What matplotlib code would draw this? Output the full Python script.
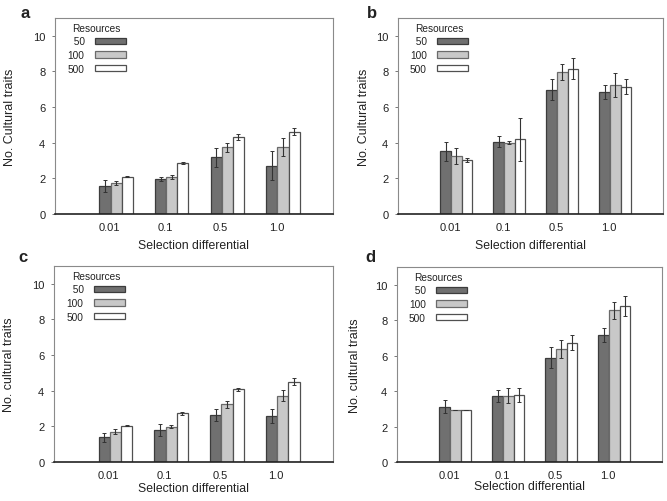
import matplotlib
matplotlib.use("Agg")
import matplotlib.pyplot as plt
from matplotlib.patches import Patch
import numpy as np

plt.rcParams['font.family'] = ['Liberation Sans', 'DejaVu Sans']
plt.rcParams['text.color'] = '#222222'
plt.rcParams['axes.labelcolor'] = '#222222'
plt.rcParams['xtick.labelcolor'] = '#222222'
plt.rcParams['ytick.labelcolor'] = '#222222'

categories = ["0.01", "0.1", "0.5", "1.0"]
resources = ["50", "100", "500"]

# Panel a
a_50 = [1.59, 1.97, 3.18, 2.72]
a_100 = [1.74, 2.08, 3.75, 3.78]
a_500 = [2.08, 2.88, 4.31, 4.63]
a_50_err = [0.33, 0.10, 0.52, 0.82]
a_100_err = [0.09, 0.09, 0.26, 0.50]
a_500_err = [0.03, 0.05, 0.17, 0.18]

# Panel b
b_50 = [3.52, 4.06, 6.97, 6.85]
b_100 = [3.26, 4.00, 7.96, 7.25]
b_500 = [3.01, 4.19, 8.16, 7.15]
b_50_err = [0.52, 0.31, 0.60, 0.39]
b_100_err = [0.43, 0.09, 0.46, 0.66]
b_500_err = [0.11, 1.19, 0.60, 0.41]

# Panel c
c_50 = [1.39, 1.82, 2.65, 2.59]
c_100 = [1.69, 1.99, 3.23, 3.71]
c_500 = [2.04, 2.74, 4.07, 4.50]
c_50_err = [0.25, 0.34, 0.35, 0.38]
c_100_err = [0.14, 0.08, 0.22, 0.31]
c_500_err = [0.02, 0.09, 0.06, 0.20]

# Panel d
d_50 = [3.13, 3.71, 5.89, 7.16]
d_100 = [2.96, 3.73, 6.35, 8.55]
d_500 = [2.96, 3.79, 6.74, 8.78]
d_50_err = [0.39, 0.34, 0.57, 0.41]
d_100_err = [0.0, 0.42, 0.51, 0.49]
d_500_err = [0.0, 0.41, 0.40, 0.57]

panels = [
    ("a", "No. Cultural traits", (a_50, a_100, a_500), (a_50_err, a_100_err, a_500_err)),
    ("b", "No. Cultural traits", (b_50, b_100, b_500), (b_50_err, b_100_err, b_500_err)),
    ("c", "No. cultural traits", (c_50, c_100, c_500), (c_50_err, c_100_err, c_500_err)),
    ("d", "No. cultural traits", (d_50, d_100, d_500), (d_50_err, d_100_err, d_500_err)),
]

W, H = 667, 502
fig = plt.figure(figsize=(W / 100, H / 100), dpi=100)

# pixel boxes: left, right, top, bottom
boxes = [(55, 333, 19, 215), (398, 663, 19, 215), (54, 333, 267, 463), (397, 662, 268, 463)]
letter_pos = [(25, 13), (372, 13), (23, 257), (370, 257)]
ylab_x = [-0.14, -0.105, -0.14, -0.135]
xlab_y = [-0.13, -0.13, -0.10, -0.09]

fills = ["#707070", "#c8c8c8", "#ffffff"]
edges = ["#3c3c3c", "#6a6a6a", "#505050"]
width = 0.2
x = np.arange(1, len(categories) + 1)

for (letter, ylabel, series, errs), (l, r, t, b), (lx, ly), yx, xy in zip(
        panels, boxes, letter_pos, ylab_x, xlab_y):
    ax = fig.add_axes([l / W, 1 - b / H, (r - l) / W, (b - t) / H])
    for i, (vals, err) in enumerate(zip(series, errs)):
        ax.bar(x + (i - 1) * width, vals, width, color=fills[i], edgecolor=edges[i],
               linewidth=0.9, zorder=2)
        ax.errorbar(x + (i - 1) * width, vals, yerr=err, fmt="none", ecolor="#333333",
                    elinewidth=0.8, capsize=1.5, capthick=0.7, zorder=3)
    ax.set_xlim(-0.1, 4.9)
    ax.set_ylim(0, 11)
    ax.set_yticks([0, 2, 4, 6, 8, 10])
    ax.set_xticks(x - 0.12)
    ax.set_xticklabels(categories)
    ax.tick_params(axis="x", length=0, pad=5.5, labelsize=8)
    ax.tick_params(axis="y", length=2.5, width=0.7, color="#777777", pad=4.5, labelsize=8)
    for s in ["left", "top", "right"]:
        ax.spines[s].set_color("#8a8a8a")
        ax.spines[s].set_linewidth(0.8)
    ax.spines["bottom"].set_color("#222222")
    ax.spines["bottom"].set_linewidth(1.2)
    ax.set_ylabel(ylabel, fontsize=9)
    ax.yaxis.set_label_coords(yx, 0.5)
    ax.set_xlabel("Selection differential", fontsize=8.8)
    ax.xaxis.set_label_coords(0.5, xy)

    handles = [Patch(facecolor=fills[i], edgecolor=edges[i], linewidth=0.9) for i in range(3)]
    labels = [lab.rjust(3).replace(" ", "  ") for lab in resources]
    ax.legend(handles, labels, title="Resources", loc="upper left",
              bbox_to_anchor=(0.045, 0.975), frameon=False, fontsize=7.3,
              title_fontsize=7.3, markerfirst=False, handlelength=3.1,
              handleheight=0.6, handletextpad=1.0, labelspacing=0.35,
              borderpad=0, borderaxespad=0)

    fig.text(lx / W, 1 - ly / H, letter, fontsize=12, fontweight="bold",
             ha="center", va="center")

fig.savefig("out.png", dpi=100)
